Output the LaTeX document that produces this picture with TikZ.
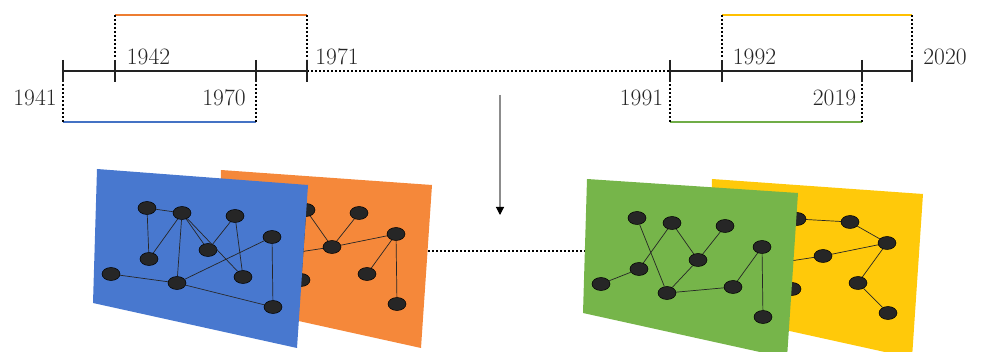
\documentclass[tikz,border=0pt]{standalone}
\usetikzlibrary{shapes.geometric,arrows.meta}

\definecolor{axis}{HTML}{222222}
\definecolor{offblue}{HTML}{4472C4}
\definecolor{offorange}{HTML}{ED7D31}
\definecolor{offyellow}{HTML}{FFC000}
\definecolor{offgreen}{HTML}{70AD47}
\definecolor{panelblue}{HTML}{4878CF}
\definecolor{panelorange}{HTML}{F5883A}
\definecolor{panelgreen}{HTML}{76B54A}
\definecolor{panelyellow}{HTML}{FFC90A}
\definecolor{vertex}{HTML}{262626}

\tikzset{
  axisline/.style={draw=axis, line width=2.7pt},
  tickmark/.style={draw=axis, line width=2.7pt},
  dotline/.style={draw=black, line width=2.2pt, dash pattern=on 2pt off 2pt},
  spanline/.style={line width=2.6pt},
  yearlabel/.style={inner sep=0pt, text=black!85, font=\fontsize{23.5}{28}\selectfont},
  vtx/.style={ellipse, fill=vertex, draw=black, line width=0.5pt,
              minimum width=18pt, minimum height=13pt, inner sep=0pt},
  link/.style={draw=black!85, line width=0.7pt},
  downarrow/.style={draw=black!45, line width=1.1pt,
     -{Triangle[width=8pt,length=8pt,color=black]}},
}

% ten vertices of a network layer, named #1-1 ... #1-10
\newcommand{\layervertices}[1]{%
  \node[vtx] (#1-1)  at (147,208) {};
  \node[vtx] (#1-2)  at (182,213) {};
  \node[vtx] (#1-3)  at (235,216) {};
  \node[vtx] (#1-4)  at (272,237) {};
  \node[vtx] (#1-5)  at (208,250) {};
  \node[vtx] (#1-6)  at (149,259) {};
  \node[vtx] (#1-7)  at (111,274) {};
  \node[vtx] (#1-8)  at (177,283) {};
  \node[vtx] (#1-9)  at (243,277) {};
  \node[vtx] (#1-10) at (273,307) {};
}

\begin{document}
\begin{tikzpicture}[x=1pt,y=-1pt]
\useasboundingbox (0,0) rectangle (982,352);

% ---------- timeline: tick positions ----------
\coordinate (t41) at (63,71);
\coordinate (t42) at (115,71);
\coordinate (t70) at (256,71);
\coordinate (t71) at (307,71);
\coordinate (t91) at (670,71);
\coordinate (t92) at (722,71);
\coordinate (t19) at (862,71);
\coordinate (t20) at (912,71);

% span end points
\coordinate (o1) at (115,15);  \coordinate (o2) at (307,15);
\coordinate (o1d) at (115,57); \coordinate (o2d) at (307,59);
\coordinate (b1) at (63,122);  \coordinate (b2) at (256,122);
\coordinate (b1u) at (63,84);  \coordinate (b2u) at (256,84);
\coordinate (y1) at (722,15);  \coordinate (y2) at (912,15);
\coordinate (y1d) at (722,57); \coordinate (y2d) at (912,59);
\coordinate (g1) at (670,122); \coordinate (g2) at (862,122);
\coordinate (g1u) at (670,84); \coordinate (g2u) at (862,84);

% axis segments
\draw[axisline] (t41) -- (t71);
\draw[dotline] (t71) -- (t91);
\draw[axisline] (t91) -- (t20);

% ticks
\foreach \t in {t41,t42,t70,t71,t91,t92,t19,t20}
  \draw[tickmark] ([yshift=11pt]\t) -- ([yshift=-11pt]\t);

% coloured spans with dotted drop lines
\draw[spanline, offorange] (o1) -- (o2);
\draw[dotline] (o1) -- (o1d);
\draw[dotline] (o2) -- (o2d);
\draw[spanline, offblue] (b1) -- (b2);
\draw[dotline] (b1u) -- (b1);
\draw[dotline] (b2u) -- (b2);
\draw[spanline, offyellow] (y1) -- (y2);
\draw[dotline] (y1) -- (y1d);
\draw[dotline] (y2) -- (y2d);
\draw[spanline, offgreen] (g1) -- (g2);
\draw[dotline] (g1u) -- (g1);
\draw[dotline] (g2u) -- (g2);

% year labels
\node[yearlabel] (l1941) at (35,98)   {1941};
\node[yearlabel] (l1942) at (148.5,57) {1942};
\node[yearlabel] (l1970) at (224,98)  {1970};
\node[yearlabel] (l1971) at (337,57)  {1971};
\node[yearlabel] (l1991) at (641.5,98) {1991};
\node[yearlabel] (l1992) at (754.5,57) {1992};
\node[yearlabel] (l2019) at (834.5,98) {2019};
\node[yearlabel] (l2020) at (945,57)  {2020};

% ---------- arrow and link between the two stacks ----------
\coordinate (arrtop) at (500,95);
\coordinate (arrbot) at (500,215);
\draw[downarrow] (arrtop) -- (arrbot);

\coordinate (gapL) at (428,251);
\coordinate (gapR) at (590,251);
\draw[dotline] (gapL) -- (gapR);

% ---------- left stack: orange layer behind blue layer ----------
\fill[panelorange] (221,170) -- (432,185) -- (421,348) -- (217,303) -- cycle;
\begin{scope}[shift={(124,-3)}]
  \layervertices{O}
  \draw[link] (O-2) -- (O-5);
  \draw[link] (O-3) -- (O-5);
  \draw[link] (O-5) -- (O-4);
  \draw[link] (O-5) -- (O-6);
  \draw[link] (O-2) -- (O-8);
  \draw[link] (O-4) -- (O-9);
  \draw[link] (O-4) -- (O-10);
\end{scope}

\fill[panelblue] (97,169) -- (308,185) -- (297,348) -- (93,303) -- cycle;
\layervertices{B}
\draw[link] (B-1) -- (B-2);
\draw[link] (B-1) -- (B-6);
\draw[link] (B-2) -- (B-6);
\draw[link] (B-2) -- (B-8);
\draw[link] (B-2) -- (B-5);
\draw[link] (B-2) -- (B-9);
\draw[link] (B-3) -- (B-5);
\draw[link] (B-3) -- (B-9);
\draw[link] (B-7) -- (B-8);
\draw[link] (B-8) -- (B-4);
\draw[link] (B-8) -- (B-10);
\draw[link] (B-4) -- (B-10);

% ---------- right stack: yellow layer behind green layer ----------
\fill[panelyellow] (712,179) -- (923,194) -- (912,358) -- (708,313) -- cycle;
\begin{scope}[shift={(615,6)}]
  \layervertices{Y}
  \draw[link] (Y-2) -- (Y-3);
  \draw[link] (Y-3) -- (Y-4);
  \draw[link] (Y-5) -- (Y-4);
  \draw[link] (Y-5) -- (Y-6);
  \draw[link] (Y-4) -- (Y-9);
  \draw[link] (Y-9) -- (Y-10);
\end{scope}

\fill[panelgreen] (587,179) -- (798,193) -- (787,358) -- (583,313) -- cycle;
\begin{scope}[shift={(490,10)}]
  \layervertices{G}
  \draw[link] (G-1) -- (G-8);
  \draw[link] (G-2) -- (G-6);
  \draw[link] (G-2) -- (G-5);
  \draw[link] (G-3) -- (G-5);
  \draw[link] (G-7) -- (G-6);
  \draw[link] (G-5) -- (G-8);
  \draw[link] (G-8) -- (G-9);
  \draw[link] (G-9) -- (G-4);
  \draw[link] (G-4) -- (G-10);
\end{scope}
\end{tikzpicture}
\end{document}
